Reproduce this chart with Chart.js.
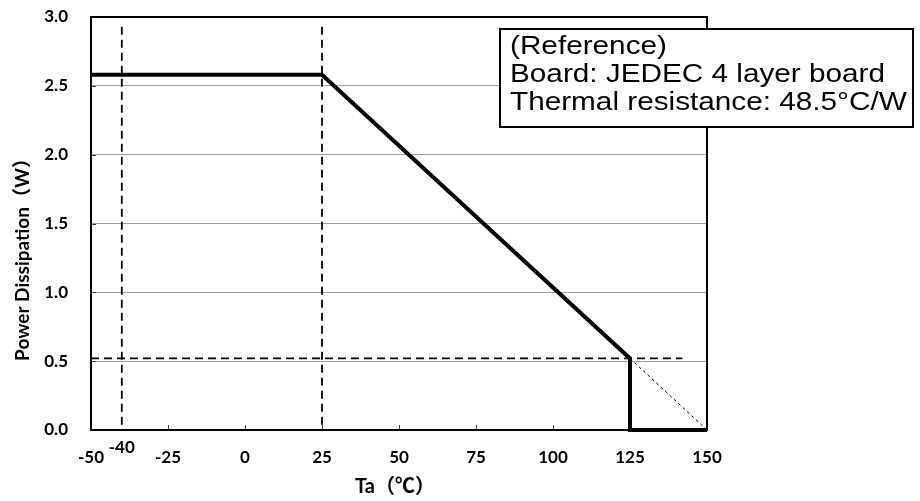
<!DOCTYPE html>
<html>
<head>
<meta charset="utf-8">
<script src="https://cdn.jsdelivr.net/npm/chart.js@4.4.1/dist/chart.umd.min.js"></script>
<style>
html,body{margin:0;padding:0;background:#fff;}
#wrap{width:920px;height:501px;position:relative;}
</style>
</head>
<body>
<div id="wrap"><canvas id="c" width="920" height="501"></canvas></div>
<script>
// ---- data ----
const curveTemp = [-50, 25, 125, 125, 150];       // Ta (°C)
const curvePower = [2.58, 2.58, 0.52, 0, 0];      // W
const extrapTemp = [125, 150];
const extrapPower = [0.52, 0];
const markerTemps = [-40, 25];                    // vertical dashed guides
const guidePower = 0.52;                          // horizontal dashed guide
const guideTempRange = [-50, 142];
const xTickValues = [-50, -25, 0, 25, 50, 75, 100, 125, 150];
const extraXTick = -40;
const yTickValues = [0, 0.5, 1.0, 1.5, 2.0, 2.5, 3.0];
const xTitle = 'Ta（℃）';
const yTitle = 'Power Dissipation（W）';
const noteLines = ['(Reference)', 'Board: JEDEC 4 layer board', 'Thermal resistance: 48.5°C/W'];

const pts = (xs, ys) => xs.map((x, i) => ({x, y: ys[i]}));
const FAMILY = 'Lato, "Noto Sans CJK JP", sans-serif';
const TICK_FONT = 'bold 17px ' + FAMILY;

const datasets = [];
markerTemps.forEach(t => datasets.push({
  data: pts([t, t], [2.93, 0]), borderColor: '#000', borderWidth: 1.8,
  borderDash: [8, 5], pointRadius: 0, showLine: true, clip: false, order: 3
}));
datasets.push({
  data: pts(guideTempRange, [guidePower, guidePower]), borderColor: '#000', borderWidth: 1.8,
  borderDash: [8, 5], pointRadius: 0, showLine: true, clip: false, order: 3
});
datasets.push({
  data: pts(extrapTemp, extrapPower), borderColor: '#000', borderWidth: 1,
  borderDash: [3, 3], pointRadius: 0, showLine: true, clip: false, order: 2
});
datasets.push({
  data: pts(curveTemp, curvePower), borderColor: '#000', borderWidth: 4,
  pointRadius: 0, showLine: true, clip: false, borderJoinStyle: 'miter', order: 1
});

const decor = {
  id: 'decor',
  beforeDatasetsDraw(chart) {
    const {ctx, chartArea: a, scales: {x, y}} = chart;
    ctx.save();
    ctx.strokeStyle = '#444';
    ctx.lineWidth = 1;
    xTickValues.forEach(v => {
      const px = Math.round(x.getPixelForValue(v)) + 0.5;
      ctx.beginPath(); ctx.moveTo(px, a.bottom); ctx.lineTo(px, a.bottom - 5); ctx.stroke();
    });
    yTickValues.forEach(v => {
      const py = Math.round(y.getPixelForValue(v)) + 0.5;
      ctx.beginPath(); ctx.moveTo(a.left, py); ctx.lineTo(a.left + 5, py); ctx.stroke();
    });
    ctx.restore();
  },
  afterDraw(chart) {
    const {ctx, chartArea: a, scales: {x}} = chart;
    ctx.save();
    ctx.strokeStyle = '#000';
    ctx.lineWidth = 2;
    ctx.strokeRect(a.left, a.top, a.right - a.left, a.bottom - a.top);
    ctx.fillStyle = '#000';
    ctx.font = TICK_FONT;
    ctx.textAlign = 'center';
    ctx.textBaseline = 'middle';
    ctx.fillText(String(extraXTick), x.getPixelForValue(extraXTick), 448);
    ctx.font = 'bold 20px ' + FAMILY;
    ctx.fillText(xTitle, 395, 487);
    ctx.save();
    ctx.translate(23, 255);
    ctx.rotate(-Math.PI / 2);
    ctx.font = 'bold 19px ' + FAMILY;
    ctx.fillText(yTitle, 0, 0);
    ctx.restore();
    ctx.fillStyle = '#fff';
    ctx.fillRect(500, 29, 413, 98);
    ctx.strokeStyle = '#000';
    ctx.lineWidth = 2;
    ctx.strokeRect(500, 29, 413, 98);
    ctx.fillStyle = '#000';
    ctx.font = '26px "Liberation Sans", Arial, sans-serif';
    ctx.textAlign = 'left';
    ctx.textBaseline = 'alphabetic';
    const w = ctx.measureText(noteLines[1]).width;
    const sx = 375 / w;
    const baselines = [54, 82, 110];
    noteLines.forEach((t, i) => {
      ctx.save();
      ctx.translate(510, baselines[i]);
      ctx.scale(sx, 1);
      ctx.fillText(t, 0, 0);
      ctx.restore();
    });
    ctx.restore();
  }
};

new Chart(document.getElementById('c'), {
  type: 'scatter',
  data: {datasets},
  options: {
    responsive: false,
    animation: false,
    layout: {padding: {top: 17, right: 213, left: 0, bottom: 0}},
    plugins: {legend: {display: false}, tooltip: {enabled: false}},
    scales: {
      x: {
        type: 'linear', min: -50, max: 150,
        afterBuildTicks: s => { s.ticks = xTickValues.map(v => ({value: v})); },
        afterFit: s => { s.height = 71; s.paddingLeft = 0; s.paddingRight = 0; },
        grid: {display: false, drawTicks: false},
        border: {display: false},
        ticks: {color: '#000', font: {family: FAMILY, size: 17, weight: 'bold'},
                padding: 17, maxRotation: 0, autoSkip: false, callback: v => String(v)}
      },
      y: {
        type: 'linear', min: 0, max: 3,
        afterBuildTicks: s => { s.ticks = yTickValues.map(v => ({value: v})); },
        afterFit: s => { s.width = 91; s.paddingTop = 0; s.paddingBottom = 0; },
        grid: {color: '#a0a0a0', lineWidth: 1, drawTicks: false},
        border: {display: false},
        ticks: {color: '#000', font: {family: FAMILY, size: 17, weight: 'bold'},
                padding: 23, callback: v => Number(v).toFixed(1)}
      }
    }
  },
  plugins: [decor]
});
</script>
</body>
</html>
